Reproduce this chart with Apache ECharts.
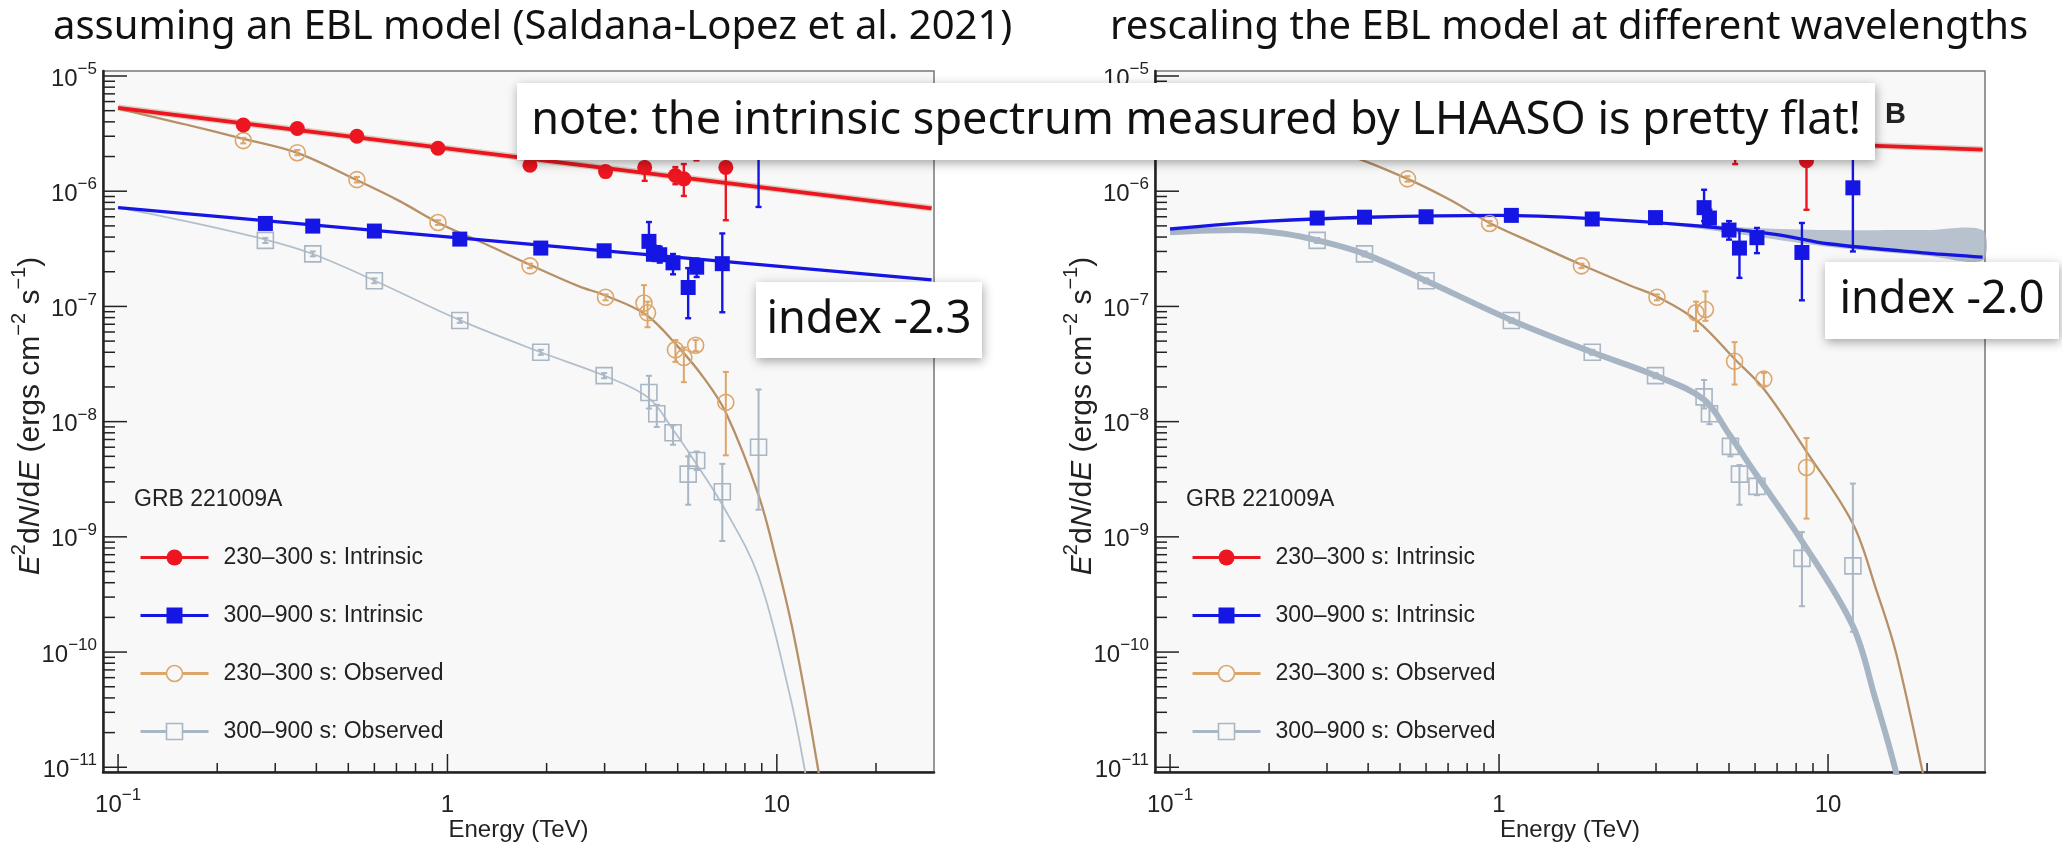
<!DOCTYPE html>
<html><head><meta charset="utf-8">
<script src="https://cdn.jsdelivr.net/npm/echarts@6/dist/echarts.min.js"></script>
<style>html,body{margin:0;padding:0;background:#fff}#c{width:2062px;height:848px}</style>
</head><body><div id="c"></div>
<script>
// ================= DATA =================
const N1 = '230–300 s: Intrinsic';
const N2 = '300–900 s: Intrinsic';
const N3 = '230–300 s: Observed';
const N4 = '300–900 s: Observed';

// ---------- Left panel: assuming an EBL model ----------
const L_r_E  = [0.240, 0.350, 0.531, 0.936, 1.78, 3.02, 3.97, 4.92, 5.22, 5.70, 7.00];
const L_r_F  = [3.76e-6, 3.50e-6, 3.00e-6, 2.36e-6, 1.68e-6, 1.48e-6, 1.61e-6, 1.37e-6, 1.28e-6, 2.30e-6, 1.61e-6];
const L_r_lo = [3.55e-6, 3.30e-6, 2.82e-6, 2.22e-6, 1.56e-6, 1.37e-6, 1.23e-6, 1.15e-6, 9.1e-7, 1.85e-6, 5.6e-7];
const L_r_hi = [3.98e-6, 3.72e-6, 3.20e-6, 2.50e-6, 1.82e-6, 1.60e-6, 1.95e-6, 1.62e-6, 1.72e-6, 2.80e-6, 2.50e-6];

const L_b_E  = [0.280, 0.390, 0.600, 1.09, 1.92, 2.99, 4.09, 4.22, 4.41, 4.84, 5.38, 5.71, 6.83, 8.80];
const L_b_F  = [5.25e-7, 4.98e-7, 4.51e-7, 3.84e-7, 3.21e-7, 3.04e-7, 3.67e-7, 2.94e-7, 2.81e-7, 2.39e-7, 1.46e-7, 2.19e-7, 2.35e-7, 3.0e-6];
const L_b_lo = [4.9e-7, 4.65e-7, 4.2e-7, 3.6e-7, 3.0e-7, 2.8e-7, 2.5e-7, 2.5e-7, 2.4e-7, 1.9e-7, 7.9e-8, 1.8e-7, 8.9e-8, 7.3e-7];
const L_b_hi = [5.6e-7, 5.3e-7, 4.8e-7, 4.1e-7, 3.45e-7, 3.3e-7, 5.4e-7, 3.4e-7, 3.3e-7, 2.85e-7, 2.15e-7, 2.6e-7, 4.3e-7, 5.0e-6];

const L_o_E  = [0.240, 0.350, 0.531, 0.936, 1.78, 3.02, 3.95, 4.05, 4.92, 5.22, 5.67, 7.00];
const L_o_F  = [2.75e-6, 2.16e-6, 1.26e-6, 5.35e-7, 2.25e-7, 1.20e-7, 1.07e-7, 8.8e-8, 4.2e-8, 3.6e-8, 4.6e-8, 1.47e-8];
const L_o_lo = [2.6e-6, 2.05e-6, 1.19e-6, 5.1e-7, 2.15e-7, 1.13e-7, 8.5e-8, 6.6e-8, 3.3e-8, 2.2e-8, 4.1e-8, 5.1e-9];
const L_o_hi = [2.9e-6, 2.28e-6, 1.33e-6, 5.6e-7, 2.35e-7, 1.27e-7, 1.53e-7, 1.1e-7, 5.1e-8, 4.4e-8, 5.1e-8, 2.7e-8];

const L_g_E  = [0.280, 0.390, 0.600, 1.09, 1.92, 2.99, 4.09, 4.32, 4.84, 5.38, 5.71, 6.83, 8.80];
const L_g_F  = [3.74e-7, 2.86e-7, 1.67e-7, 7.55e-8, 4.0e-8, 2.51e-8, 1.79e-8, 1.17e-8, 8.0e-9, 3.5e-9, 4.6e-9, 2.46e-9, 6.0e-9];
const L_g_lo = [3.55e-7, 2.72e-7, 1.59e-7, 7.2e-8, 3.8e-8, 2.38e-8, 1.3e-8, 9.0e-9, 6.3e-9, 1.9e-9, 3.8e-9, 9.2e-10, 1.72e-9];
const L_g_hi = [3.93e-7, 3.0e-7, 1.75e-7, 7.9e-8, 4.2e-8, 2.64e-8, 2.5e-8, 1.4e-8, 9.3e-9, 5.0e-9, 5.5e-9, 4.3e-9, 1.9e-8];

// fitted / model curves (left)
const L_rfit_E = [0.1, 29.5];
const L_rfit_F = [5.3e-6, 7.1e-7];
const L_bfit_E = [0.1, 29.5];
const L_bfit_F = [7.2e-7, 1.7e-7];
const L_ocur_E = [0.1, 0.157, 0.24, 0.35, 0.53, 0.716, 0.94, 1.3, 1.78, 2.5, 3.0, 4.0, 5.0, 6.0, 7.0, 8.8, 10, 11.1, 12.2, 13.6];
const L_ocur_F = [5.2e-6, 3.85e-6, 2.85e-6, 2.15e-6, 1.25e-6, 8.2e-7, 5.3e-7, 3.5e-7, 2.3e-7, 1.5e-7, 1.25e-7, 8.5e-8, 4.5e-8, 2.4e-8, 1.2e-8, 2.3e-9, 6.0e-10, 1.7e-10, 4.2e-11, 7e-12];
const L_gcur_E = [0.1, 0.16, 0.28, 0.39, 0.6, 1.09, 1.92, 3.0, 4.09, 4.84, 5.38, 6.83, 8.8, 11.0, 12.2, 12.6];
const L_gcur_F = [7.2e-7, 5.5e-7, 3.8e-7, 2.85e-7, 1.68e-7, 7.6e-8, 4.0e-8, 2.5e-8, 1.6e-8, 8.5e-9, 5.5e-9, 1.9e-9, 4.5e-10, 4e-11, 9e-12, 5e-12];

// ---------- Right panel: rescaling the EBL model ----------
const R_r_E  = [0.240, 0.350, 0.531, 0.936, 1.78, 3.02, 3.97, 4.92, 5.22, 8.60];
const R_r_F  = [3.4e-6, 3.5e-6, 3.4e-6, 3.3e-6, 3.1e-6, 3.0e-6, 3.3e-6, 3.0e-6, 2.5e-6, 1.84e-6];
const R_r_lo = [3.2e-6, 3.3e-6, 3.2e-6, 3.1e-6, 2.9e-6, 2.8e-6, 2.5e-6, 2.2e-6, 1.72e-6, 6.9e-7];
const R_r_hi = [3.6e-6, 3.7e-6, 3.6e-6, 3.5e-6, 3.3e-6, 3.2e-6, 4.2e-6, 4.0e-6, 3.4e-6, 2.9e-6];

const R_b_E  = [0.280, 0.390, 0.600, 1.09, 1.92, 2.99, 4.20, 4.36, 5.00, 5.38, 6.08, 8.33, 11.9];
const R_b_F  = [5.85e-7, 5.95e-7, 6.0e-7, 6.17e-7, 5.74e-7, 5.9e-7, 7.2e-7, 5.85e-7, 4.6e-7, 3.21e-7, 3.95e-7, 2.94e-7, 1.07e-6];
const R_b_lo = [5.5e-7, 5.6e-7, 5.65e-7, 5.8e-7, 5.4e-7, 5.55e-7, 5.5e-7, 4.9e-7, 3.8e-7, 1.77e-7, 2.9e-7, 1.13e-7, 3.0e-7];
const R_b_hi = [6.2e-7, 6.3e-7, 6.35e-7, 6.55e-7, 6.1e-7, 6.25e-7, 1.03e-6, 6.9e-7, 5.5e-7, 4.6e-7, 4.8e-7, 5.3e-7, 2.2e-6];

const R_o_E  = [0.240, 0.350, 0.527, 0.936, 1.78, 3.02, 3.97, 4.24, 5.20, 6.38, 8.60];
const R_o_F  = [2.8e-6, 2.3e-6, 1.28e-6, 5.25e-7, 2.25e-7, 1.20e-7, 8.8e-8, 9.4e-8, 3.34e-8, 2.34e-8, 4.0e-9];
const R_o_lo = [2.65e-6, 2.2e-6, 1.21e-6, 5.0e-7, 2.15e-7, 1.13e-7, 6.1e-8, 7.5e-8, 2.1e-8, 2.05e-8, 1.44e-9];
const R_o_hi = [2.95e-6, 2.4e-6, 1.35e-6, 5.5e-7, 2.35e-7, 1.27e-7, 1.1e-7, 1.35e-7, 4.9e-8, 2.65e-8, 7.2e-9];

const R_g_E  = [0.280, 0.390, 0.600, 1.09, 1.92, 2.99, 4.20, 4.36, 5.05, 5.38, 6.08, 8.33, 11.9];
const R_g_F  = [3.74e-7, 2.86e-7, 1.67e-7, 7.55e-8, 4.0e-8, 2.51e-8, 1.64e-8, 1.17e-8, 6.1e-9, 3.5e-9, 2.74e-9, 6.5e-10, 5.6e-10];
const R_g_lo = [3.55e-7, 2.72e-7, 1.59e-7, 7.2e-8, 3.8e-8, 2.38e-8, 1.3e-8, 9.5e-9, 5.0e-9, 1.9e-9, 2.3e-9, 2.5e-10, 1.5e-10];
const R_g_hi = [3.93e-7, 3.0e-7, 1.75e-7, 7.9e-8, 4.2e-8, 2.64e-8, 2.3e-8, 1.35e-8, 7.4e-9, 4.2e-9, 3.3e-9, 1.1e-9, 2.9e-9];

// curves (right)
const R_rfit_E = [0.1, 29.5];
const R_rfit_F = [4.1e-6, 2.3e-6];
const R_bfit_E = [0.1, 0.2, 0.4, 1.0, 2.0, 4.0, 7.0, 10, 20, 29.5];
const R_bfit_F = [4.7e-7, 5.5e-7, 5.95e-7, 6.17e-7, 5.75e-7, 5.0e-7, 4.2e-7, 3.5e-7, 2.9e-7, 2.68e-7];
const R_band_E  = [2.5, 4.0, 6.0, 10, 20, 29.5];
const R_band_hi = [5.6e-7, 5.2e-7, 4.8e-7, 4.6e-7, 4.6e-7, 4.6e-7];
const R_band_lo = [5.5e-7, 4.75e-7, 4.05e-7, 3.3e-7, 2.75e-7, 2.5e-7];
const R_ocur_E = [0.1, 0.157, 0.24, 0.35, 0.527, 0.716, 0.936, 1.3, 1.78, 2.5, 3.02, 4.0, 5.2, 6.4, 8.6, 11.9, 14, 16.1, 19.4, 20.5];
const R_ocur_F = [4.9e-6, 3.7e-6, 2.75e-6, 2.05e-6, 1.28e-6, 8.3e-7, 5.3e-7, 3.45e-7, 2.3e-7, 1.52e-7, 1.22e-7, 7.5e-8, 3.5e-8, 1.9e-8, 5.5e-9, 1.3e-9, 3.5e-10, 9.8e-11, 9e-12, 4e-12];
const R_gcur_E = [0.1, 0.16, 0.22, 0.28, 0.39, 0.6, 1.09, 1.92, 3.0, 4.2, 5.0, 6.0, 8.33, 11.9, 13.9, 16.1, 16.6];
const R_gcur_F = [4.4e-7, 4.6e-7, 4.3e-7, 3.75e-7, 2.86e-7, 1.67e-7, 7.6e-8, 4.0e-8, 2.5e-8, 1.55e-8, 7.8e-9, 3.6e-9, 9.2e-10, 1.68e-10, 4.0e-11, 9e-12, 5e-12];

// ---------- axes ----------
const X_MIN = 0.09, X_MAX = 30;
const Y_MIN = 9.1e-12, Y_MAX = 1.105e-5;
const xMajorTicks  = [0.1, 1, 10];
const xMajorLabels = [['10', '−1'], ['1', ''], ['10', '']];
const xMinorTicks  = [0.2, 0.3, 0.4, 0.5, 0.6, 0.7, 0.8, 0.9, 2, 3, 4, 5, 6, 7, 8, 9, 20];
const yMajorTicks  = [1e-5, 1e-6, 1e-7, 1e-8, 1e-9, 1e-10, 1e-11];
const yMajorLabels = [['10', '−5'], ['10', '−6'], ['10', '−7'], ['10', '−8'], ['10', '−9'], ['10', '−10'], ['10', '−11']];
const yMinorMant   = [2, 3, 4, 5, 6, 7, 8, 9];
const yMinorDecades = [1e-11, 1e-10, 1e-9, 1e-8, 1e-7, 1e-6];

const titles = ['assuming an EBL model (Saldana-Lopez et al. 2021)', 'rescaling the EBL model at different wavelengths'];
const noteText = 'note: the intrinsic spectrum measured by LHAASO is pretty flat!';
const indexTexts = ['index -2.3', 'index -2.0'];

// ================= STYLE =================
const AXF = 'Liberation Sans, Arial, Helvetica, sans-serif';
const NF = 'Noto Sans, Open Sans, sans-serif';
const RED = '#ec1520', BLUE = '#1616e4', TAN = '#dca66b', TANL = '#b79068', GRAYM = '#a9b6c4', GRAYL = '#b3bfcb', GRAYB = '#a6b4c3';
const GRID = [{left: 103, top: 71, width: 831, height: 701}, {left: 1155, top: 71, width: 830, height: 701}];

function pts(E, F) { return E.map((e, i) => [e, F[i]]); }
function bars(E, lo, hi) { return E.map((e, i) => [e, lo[i], hi[i]]); }

function errSeries(g, E, lo, hi, color, w) {
  return {
    type: 'custom', xAxisIndex: g, yAxisIndex: g, silent: true, z: 4,
    data: bars(E, lo, hi), encode: {x: 0, y: [1, 2]},
    renderItem(params, api) {
      const x = api.value(0);
      const p1 = api.coord([x, api.value(1)]);
      const p2 = api.coord([x, api.value(2)]);
      const c = 3, st = {stroke: color, lineWidth: w};
      return {type: 'group', children: [
        {type: 'line', shape: {x1: p1[0], y1: p1[1], x2: p2[0], y2: p2[1]}, style: st},
        {type: 'line', shape: {x1: p1[0] - c, y1: p1[1], x2: p1[0] + c, y2: p1[1]}, style: st},
        {type: 'line', shape: {x1: p2[0] - c, y1: p2[1], x2: p2[0] + c, y2: p2[1]}, style: st}
      ]};
    }
  };
}

function richLab(lab) {
  return lab[1] ? '{b|' + lab[0] + '}{s|' + lab[1] + '}' : '{b|' + lab[0] + '}';
}
const RICH = {
  b: {fontSize: 24, fontFamily: AXF, fill: '#222', lineHeight: 36},
  s: {fontSize: 17, fontFamily: AXF, fill: '#222', verticalAlign: 'top', lineHeight: 18}
};

function xTickSeries(g) {
  const data = [];
  xMajorTicks.forEach((v, i) => data.push([v, 1e-8, 1, i]));
  xMinorTicks.forEach(v => data.push([v, 1e-8, 0, -1]));
  return {
    type: 'custom', xAxisIndex: g, yAxisIndex: g, silent: true, z: 20, data, encode: {x: 0, y: 1},
    renderItem(params, api) {
      const cs = params.coordSys;
      const x = api.coord([api.value(0), 1e-8])[0];
      const b = cs.y + cs.height;
      const major = api.value(2) === 1;
      const ch = [{type: 'line', shape: {x1: x, y1: b, x2: x, y2: b - (major ? 18 : 9)}, style: {stroke: '#222', lineWidth: 1.5}}];
      if (major) {
        ch.push({type: 'text', x: x, y: b + 33, style: {text: richLab(xMajorLabels[api.value(3)]), rich: RICH, align: 'center', verticalAlign: 'middle'}});
      }
      return {type: 'group', children: ch};
    }
  };
}

function yTickSeries(g) {
  const data = [];
  yMajorTicks.forEach((v, i) => data.push([1, v, 1, i]));
  yMinorDecades.forEach(d => yMinorMant.forEach(m => { const v = m * d; if (v < Y_MAX) data.push([1, v, 0, -1]); }));
  return {
    type: 'custom', xAxisIndex: g, yAxisIndex: g, silent: true, z: 20, data, encode: {x: 0, y: 1},
    renderItem(params, api) {
      const cs = params.coordSys;
      const y = api.coord([1, api.value(1)])[1];
      const l = cs.x;
      const major = api.value(2) === 1;
      const ch = [{type: 'line', shape: {x1: l, y1: y, x2: l + (major ? 24 : 12), y2: y}, style: {stroke: '#222', lineWidth: 1.5}}];
      if (major) {
        ch.push({type: 'text', x: l - 6, y: y + 3, style: {text: richLab(yMajorLabels[api.value(3)]), rich: RICH, align: 'right', verticalAlign: 'middle'}});
      }
      return {type: 'group', children: ch};
    }
  };
}

function lineS(g, name, E, F, color, w, symbol, smooth, z) {
  return {
    type: 'line', name: name, xAxisIndex: g, yAxisIndex: g, data: pts(E, F), showSymbol: false,
    symbol: symbol || 'none', smooth: smooth ? 0.35 : false, clip: true, silent: true, z: z || 2,
    lineStyle: {color: color, width: w}, itemStyle: {color: color}
  };
}
function scatS(g, name, E, F, sym, fill, border, size) {
  return {
    type: 'scatter', name: name, xAxisIndex: g, yAxisIndex: g, data: pts(E, F), symbol: sym, symbolSize: size,
    silent: true, z: 5, clip: true,
    itemStyle: {color: fill, borderColor: border, borderWidth: fill === 'transparent' ? 1.6 : 0, opacity: 1}
  };
}

const series = [];
// ----- left -----
series.push(lineS(0, N1, L_rfit_E, L_rfit_F, RED, 3.8, 'circle', false, 3));
series.push(lineS(0, N2, L_bfit_E, L_bfit_F, BLUE, 3.4, 'rect', false, 3));
series.push(lineS(0, N3, L_ocur_E, L_ocur_F, TANL, 2.3, 'circle', true, 2));
series.push(lineS(0, N4, L_gcur_E, L_gcur_F, GRAYL, 1.8, 'rect', true, 2));
series.push(lineS(0, '', L_rfit_E, L_rfit_F, 'rgba(160,125,85,0.35)', 6.5, 'none', false, 2));
series.push(errSeries(0, L_g_E, L_g_lo, L_g_hi, GRAYM, 2));
series.push(errSeries(0, L_o_E, L_o_lo, L_o_hi, TAN, 2));
series.push(errSeries(0, L_b_E, L_b_lo, L_b_hi, BLUE, 2.4));
series.push(errSeries(0, L_r_E, L_r_lo, L_r_hi, RED, 2.4));
series.push(scatS(0, N4, L_g_E, L_g_F, 'rect', 'transparent', GRAYM, 16));
series.push(scatS(0, N3, L_o_E, L_o_F, 'circle', 'transparent', TAN, 16));
series.push(scatS(0, N2, L_b_E, L_b_F, 'rect', BLUE, BLUE, 15));
series.push(scatS(0, N1, L_r_E, L_r_F, 'circle', RED, RED, 15));
// ----- right -----
series.push({
  type: 'custom', xAxisIndex: 1, yAxisIndex: 1, silent: true, z: 1,
  data: bars(R_band_E, R_band_lo, R_band_hi), encode: {x: 0, y: [1, 2]},
  renderItem(params, api) {
    if (params.dataIndex !== 0) return null;
    const top = R_band_E.map((e, i) => api.coord([e, R_band_hi[i]]));
    const bot = R_band_E.map((e, i) => api.coord([e, R_band_lo[i]])).reverse();
    return {type: 'polygon', shape: {points: top.concat(bot), smooth: 0.3}, style: {fill: GRAYB, opacity: 0.8}};
  }
});
series.push(lineS(1, N1, R_rfit_E, R_rfit_F, RED, 3.8, 'circle', false, 3));
series.push(lineS(1, N2, R_bfit_E, R_bfit_F, BLUE, 3.4, 'rect', true, 3));
series.push(lineS(1, N3, R_ocur_E, R_ocur_F, TANL, 2.3, 'circle', true, 2));
series.push(lineS(1, N4, R_gcur_E, R_gcur_F, GRAYB, 6, 'rect', true, 2));
series.push(lineS(1, '', R_rfit_E, R_rfit_F, 'rgba(160,125,85,0.35)', 6.5, 'none', false, 2));
series.push(errSeries(1, R_g_E, R_g_lo, R_g_hi, GRAYM, 2));
series.push(errSeries(1, R_o_E, R_o_lo, R_o_hi, TAN, 2));
series.push(errSeries(1, R_b_E, R_b_lo, R_b_hi, BLUE, 2.4));
series.push(errSeries(1, R_r_E, R_r_lo, R_r_hi, RED, 2.4));
series.push(scatS(1, N4, R_g_E, R_g_F, 'rect', 'transparent', GRAYM, 16));
series.push(scatS(1, N3, R_o_E, R_o_F, 'circle', 'transparent', TAN, 16));
series.push(scatS(1, N2, R_b_E, R_b_F, 'rect', BLUE, BLUE, 15));
series.push(scatS(1, N1, R_r_E, R_r_F, 'circle', RED, RED, 15));
// ticks
[0, 1].forEach(g => { series.push(xTickSeries(g)); series.push(yTickSeries(g)); });

const legendData = [
  {name: N1, itemStyle: {color: RED, borderWidth: 0}, lineStyle: {color: RED, width: 3}},
  {name: N2, itemStyle: {color: BLUE, borderWidth: 0}, lineStyle: {color: BLUE, width: 3}},
  {name: N3, itemStyle: {color: '#f8f8f8', borderColor: TAN, borderWidth: 1.6}, lineStyle: {color: TAN, width: 3}},
  {name: N4, itemStyle: {color: '#f8f8f8', borderColor: GRAYM, borderWidth: 1.6}, lineStyle: {color: GRAYM, width: 3}}
];

const yTitleRich = {
  i: {fontSize: 30, fontFamily: AXF, fontStyle: 'italic', fill: '#222', lineHeight: 44},
  n: {fontSize: 30, fontFamily: AXF, fill: '#222', lineHeight: 44},
  s: {fontSize: 20, fontFamily: AXF, fill: '#222', verticalAlign: 'top', lineHeight: 22}
};
const yTitleText = '{i|E}{s|2}{n|d}{i|N}{n|/d}{i|E}{n| (ergs cm}{s|−2}{n| s}{s|−1}{n|)}';

const graphic = [];
[0, 1].forEach(g => {
  const L = GRID[g].left;
  graphic.push({type: 'text', x: L - 72, y: 416, rotation: Math.PI / 2, z: 50,
    style: {text: yTitleText, rich: yTitleRich, align: 'center', verticalAlign: 'middle'}});
  graphic.push({type: 'text', x: L + 31, y: 500, z: 50,
    style: {text: 'GRB 221009A', fontSize: 23, fontFamily: AXF, fill: '#222', align: 'left', verticalAlign: 'middle'}});
});
graphic.push({type: 'text', x: 53, y: 28, z: 50, style: {text: titles[0], fontSize: 40, fontFamily: NF, fill: '#111', align: 'left', verticalAlign: 'middle'}});
graphic.push({type: 'text', x: 1110, y: 28, z: 50, style: {text: titles[1], fontSize: 40, fontFamily: NF, fill: '#111', align: 'left', verticalAlign: 'middle'}});
graphic.push({type: 'text', x: 1885, y: 115, z: 50, style: {text: 'B', fontSize: 29, fontWeight: 'bold', fontFamily: AXF, fill: '#222', align: 'left', verticalAlign: 'middle'}});
// annotation boxes
function box(x, y, w, h, text) {
  graphic.push({type: 'rect', z: 100, shape: {x: x, y: y, width: w, height: h},
    style: {fill: '#fff', shadowBlur: 10, shadowOffsetX: 1, shadowOffsetY: 3, shadowColor: 'rgba(0,0,0,0.35)'}});
  graphic.push({type: 'text', z: 101, x: x + w / 2, y: y + h / 2,
    style: {text: text, fontSize: 45, fontFamily: NF, fill: '#111', align: 'center', verticalAlign: 'middle'}});
}
box(517, 83, 1358, 77, noteText);
box(756, 282, 226, 76, indexTexts[0]);
box(1825, 262, 234, 77, indexTexts[1]);

const option = {
  animation: false,
  backgroundColor: '#fff',
  grid: GRID.map(gr => Object.assign({show: true, backgroundColor: '#f8f8f8', borderColor: '#777', borderWidth: 1.5, containLabel: false, outerBoundsMode: 'none'}, gr)),
  xAxis: [0, 1].map(g => ({
    type: 'log', logBase: 10, gridIndex: g, min: X_MIN, max: X_MAX,
    axisLine: {show: true, onZero: false, lineStyle: {color: '#222', width: 2.5}},
    axisTick: {show: false}, axisLabel: {show: false}, splitLine: {show: false}, minorTick: {show: false},
    name: 'Energy (TeV)', nameLocation: 'middle', nameGap: 46,
    nameTextStyle: {fontSize: 24, color: '#222', fontFamily: AXF}
  })),
  yAxis: [0, 1].map(g => ({
    type: 'log', logBase: 10, gridIndex: g, min: Y_MIN, max: Y_MAX,
    axisLine: {show: true, onZero: false, lineStyle: {color: '#222', width: 2.5}},
    axisTick: {show: false}, axisLabel: {show: false}, splitLine: {show: false}, minorTick: {show: false}
  })),
  legend: [0, 1].map(g => ({
    orient: 'vertical', left: GRID[g].left + 36, top: 546, itemWidth: 68, itemHeight: 20, itemGap: 35,
    selectedMode: false, padding: 0, z: 30,
    textStyle: {fontSize: 23, color: '#222', fontFamily: AXF, padding: [0, 0, 0, 10]},
    data: legendData
  })),
  graphic: graphic,
  series: series
};

const chart = echarts.init(document.getElementById('c'), null, {renderer: 'canvas'});
chart.setOption(option);
</script>
</body></html>
